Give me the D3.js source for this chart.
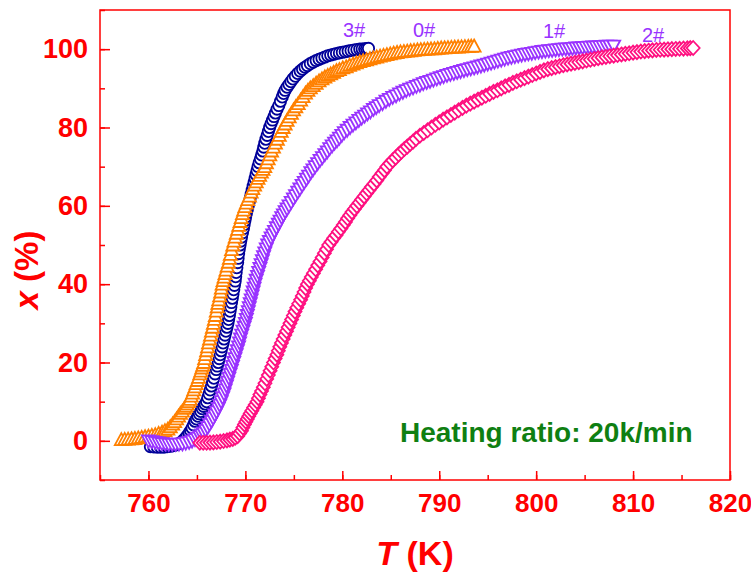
<!DOCTYPE html>
<html>
<head>
<meta charset="utf-8">
<script src="https://cdn.jsdelivr.net/npm/d3@7"></script>
<style>
  body { margin: 0; background: #fff; }
  svg { display: block; font-family: "Liberation Sans", Arial, sans-serif; }
</style>
</head>
<body>
<svg id="chart" width="751" height="573"></svg>
<script>
// sample 3# (navy circles)
const temp3 = [760.2,760.55,760.9,761.25,761.6,761.95,762.3,762.6,762.9,763.15,763.4,763.6,763.8,764.0,764.2,764.35,764.5,764.65,764.8,764.95,765.1,765.25,765.4,765.55,765.7,765.85,766.0,766.12,766.25,766.37,766.5,766.62,766.75,766.87,767.0,767.1,767.2,767.3,767.4,767.5,767.6,767.7,767.8,767.9,768.0,768.1,768.2,768.27,768.35,768.42,768.5,768.57,768.65,768.72,768.8,768.87,768.95,769.0,769.05,769.12,769.2,769.25,769.3,769.37,769.45,769.52,769.6,769.7,769.8,769.87,769.95,770.02,770.1,770.2,770.3,770.4,770.5,770.6,770.7,770.8,770.9,771.0,771.1,771.2,771.3,771.42,771.55,771.67,771.8,771.9,772.0,772.12,772.25,772.37,772.5,772.65,772.8,772.95,773.1,773.27,773.45,773.62,773.8,773.95,774.1,774.3,774.5,774.7,774.9,775.15,775.4,775.65,775.9,776.15,776.4,776.7,777.0,777.3,777.6,777.9,778.2,778.5,778.8,779.1,779.4,779.7,780.0,780.3,780.6,780.9,781.2,781.5,781.8,782.05,782.3,782.5,782.7];
const conv3 = [-1.5,-1.55,-1.6,-1.6,-1.6,-1.5,-1.4,-1.2,-1.0,-0.7,-0.3,0.2,0.7,1.3,2.0,2.6,3.3,4.1,5.0,5.6,6.3,6.9,7.5,8.2,8.8,9.4,10,11,12,13,14,15,16,17.1,18.2,19.1,20,21,22,23,24,25,26,27,28,29,30,31,32,33.1,34.2,35.3,36.4,37.5,38.6,39.7,40.8,41.9,43,44.2,45.5,46.6,47.8,48.9,50,51,52,53.1,54.2,55.2,56.2,57.1,58,59,60,61,62,63,64,65,66,67,68,69,70,71,72,73,74,75,76,77,78,79,80,81,81.9,82.8,83.7,84.7,85.6,86.7,87.8,88.7,89.5,90.3,91.0,91.7,92.4,93.1,93.8,94.4,94.9,95.4,95.8,96.3,96.7,97.1,97.4,97.7,98,98.3,98.5,98.7,98.9,99.05,99.2,99.35,99.5,99.65,99.8,99.9,100,100.05,100.1,100.15,100.2];

// sample 0# (orange up triangles)
const temp0 = [757.2,757.55,757.9,758.25,758.6,758.95,759.3,759.65,760.0,760.35,760.7,761.05,761.4,761.7,762.0,762.25,762.5,762.7,762.9,763.1,763.3,763.5,763.7,763.85,764.0,764.15,764.3,764.42,764.55,764.67,764.8,764.92,765.05,765.17,765.3,765.4,765.5,765.6,765.7,765.8,765.9,766.0,766.1,766.2,766.3,766.4,766.5,766.6,766.7,766.8,766.9,767.0,767.1,767.17,767.25,767.35,767.45,767.52,767.6,767.7,767.8,767.9,768.0,768.12,768.25,768.35,768.45,768.57,768.7,768.82,768.95,769.07,769.2,769.32,769.45,769.57,769.7,769.82,769.95,770.1,770.25,770.42,770.6,770.77,770.95,771.12,771.3,771.47,771.65,771.82,772.0,772.17,772.35,772.52,772.7,772.9,773.1,773.3,773.5,773.7,773.9,774.1,774.3,774.52,774.75,774.97,775.2,775.45,775.7,775.95,776.2,776.45,776.7,777.0,777.3,777.6,777.9,778.2,778.5,778.8,779.1,779.4,779.7,780.05,780.4,780.75,781.1,781.45,781.8,782.15,782.5,782.85,783.2,783.55,783.9,784.25,784.6,784.95,785.3,785.65,786.0,786.35,786.7,787.05,787.4,787.75,788.1,788.45,788.8,789.15,789.5,789.85,790.2,790.55,790.9,791.25,791.6,791.95,792.3,792.65,793.0,793.3,793.6];
const conv0 = [0.3,0.37,0.45,0.52,0.6,0.75,0.9,1.05,1.2,1.4,1.6,1.9,2.2,2.6,3.0,3.6,4.3,4.9,5.6,6.3,7.0,7.6,8.3,8.8,9.4,10,10.6,11.4,12.2,13,13.8,14.6,15.4,16.2,17.1,17.8,18.6,19.3,20,21,22,23,24,25,26,27,28,29,30,31,32,33.1,34.2,35.1,36,37,38,39,40,40.9,41.8,42.7,43.6,44.6,45.6,46.6,47.6,48.8,50,51,52,53,54,55,56,57,58,58.9,59.8,60.7,61.6,62.5,63.5,64.4,65.3,66.1,67,67.8,68.6,69.3,70,71,72,73,74,75,76,77,78,79,80,80.9,81.8,82.7,83.6,84.5,85.3,86.1,87,87.9,88.8,89.5,90.1,90.7,91.3,91.9,92.4,92.9,93.3,93.7,94.1,94.5,94.8,95.2,95.5,95.9,96.2,96.5,96.8,97.05,97.3,97.55,97.8,98,98.2,98.4,98.6,98.8,99.0,99.15,99.3,99.4,99.5,99.6,99.7,99.8,99.9,99.95,100.0,100.05,100.1,100.2,100.3,100.35,100.4,100.45,100.5,100.55,100.6,100.65,100.7,100.75,100.8];

// sample 1# (purple down triangles)
const temp1 = [760.0,760.35,760.7,761.05,761.4,761.75,762.1,762.45,762.8,763.15,763.5,763.85,764.2,764.5,764.8,765.05,765.3,765.5,765.7,765.9,766.1,766.3,766.5,766.67,766.85,767.02,767.2,767.35,767.5,767.65,767.8,767.92,768.05,768.17,768.3,768.42,768.55,768.67,768.8,768.92,769.05,769.17,769.3,769.4,769.5,769.62,769.75,769.87,770.0,770.1,770.2,770.3,770.4,770.5,770.6,770.7,770.8,770.9,771.0,771.12,771.25,771.37,771.5,771.62,771.75,771.87,772.0,772.15,772.3,772.47,772.65,772.82,773.0,773.2,773.4,773.57,773.75,773.92,774.1,774.3,774.5,774.72,774.95,775.17,775.4,775.62,775.85,776.07,776.3,776.52,776.75,776.97,777.2,777.45,777.7,777.95,778.2,778.45,778.7,778.95,779.2,779.45,779.7,779.95,780.2,780.5,780.8,781.1,781.4,781.7,782.0,782.3,782.6,782.9,783.2,783.5,783.8,784.15,784.5,784.85,785.2,785.55,785.9,786.25,786.6,786.95,787.3,787.65,788.0,788.35,788.7,789.05,789.4,789.75,790.1,790.45,790.8,791.15,791.5,791.85,792.2,792.55,792.9,793.25,793.6,793.95,794.3,794.65,795.0,795.35,795.7,796.05,796.4,796.75,797.1,797.45,797.8,798.15,798.5,798.85,799.2,799.55,799.9,800.25,800.6,800.95,801.3,801.65,802.0,802.35,802.7,803.05,803.4,803.75,804.1,804.45,804.8,805.15,805.5,805.85,806.2,806.55,806.9,807.25,807.6,808.0];
const conv1 = [0,-0.2,-0.4,-0.55,-0.7,-0.8,-0.9,-0.9,-0.9,-0.85,-0.8,-0.6,-0.4,-0.05,0.3,0.7,1.1,1.5,2.0,2.7,3.4,4.2,5.0,5.8,6.6,7.4,8.3,9.1,10,11,12,13,14,15,16,17,18,19,20,21,22,23,24,25,26,27,28,29,30,31,32,33,34,35,36,37,38,39,40,41,42,43,44,45,46,47,48,49,50,50.9,51.8,52.6,53.5,54.4,55.3,56.1,57,57.7,58.5,59.2,60,60.9,61.8,62.6,63.5,64.3,65.2,66,66.8,67.6,68.5,69.2,70,70.8,71.6,72.3,73.1,73.8,74.6,75.3,76,76.6,77.3,78,78.7,79.3,80,80.6,81.2,81.8,82.4,82.9,83.5,84,84.6,85.1,85.6,86.1,86.7,87.2,87.7,88.1,88.6,89,89.4,89.8,90.1,90.5,90.8,91.2,91.5,91.8,92.1,92.4,92.7,93,93.3,93.55,93.8,94.05,94.3,94.55,94.8,95,95.2,95.45,95.7,95.95,96.2,96.45,96.7,96.95,97.2,97.45,97.7,97.9,98.1,98.3,98.5,98.65,98.8,98.95,99.1,99.25,99.4,99.5,99.6,99.7,99.8,99.9,100,100.05,100.1,100.2,100.3,100.35,100.4,100.45,100.5,100.55,100.6,100.65,100.7,100.75,100.8,100.8];

// sample 2# (pink diamonds)
const temp2 = [765.3,765.65,766.0,766.35,766.7,767.05,767.4,767.75,768.1,768.4,768.7,768.95,769.2,769.4,769.6,769.75,769.9,770.05,770.2,770.35,770.5,770.67,770.85,771.02,771.2,771.35,771.5,771.67,771.85,772.02,772.2,772.37,772.55,772.72,772.9,773.07,773.25,773.4,773.55,773.72,773.9,774.07,774.25,774.42,774.6,774.77,774.95,775.12,775.3,775.5,775.7,775.87,776.05,776.22,776.4,776.6,776.8,777.02,777.25,777.47,777.7,777.92,778.15,778.37,778.6,778.85,779.1,779.35,779.6,779.85,780.1,780.32,780.55,780.77,781.0,781.25,781.5,781.75,782.0,782.25,782.5,782.75,783.0,783.27,783.55,783.82,784.1,784.35,784.6,784.9,785.2,785.5,785.8,786.1,786.4,786.7,787.0,787.3,787.6,788.0,788.4,788.8,789.2,789.6,790.0,790.4,790.8,791.2,791.6,792.0,792.4,792.8,793.2,793.6,794.0,794.4,794.8,795.2,795.6,796.0,796.4,796.8,797.2,797.6,798.0,798.4,798.8,799.2,799.6,800.0,800.4,800.8,801.2,801.6,802.0,802.4,802.8,803.2,803.6,804.0,804.4,804.8,805.2,805.6,806.0,806.4,806.8,807.2,807.6,808.0,808.4,808.8,809.2,809.6,810.0,810.4,810.8,811.2,811.6,812.0,812.4,812.8,813.2,813.6,814.0,814.4,814.8,815.2,815.6,815.9,816.2];
const conv2 = [-0.5,-0.5,-0.5,-0.45,-0.4,-0.3,-0.2,-0.05,0.1,0.3,0.5,0.8,1.2,1.9,2.6,3.4,4.2,4.9,5.6,6.3,7.0,7.7,8.5,9.2,10,10.9,11.8,12.7,13.7,14.7,15.8,16.8,17.9,18.9,20,21,22,23,24,25,26,27,28,29,30,31,32,33,34,35,36,37,38,39,40,40.9,41.8,42.8,43.8,44.8,45.8,46.8,47.9,48.9,50,50.8,51.7,52.5,53.4,54.2,55.1,55.9,56.8,57.6,58.4,59.2,60,60.8,61.6,62.4,63.2,64,64.8,65.6,66.5,67.4,68.3,69.1,70,70.8,71.6,72.3,73.1,73.8,74.5,75.1,75.8,76.4,77.1,77.9,78.6,79.3,80,80.7,81.3,82,82.6,83.2,83.8,84.4,85,85.6,86.1,86.6,87.1,87.6,88.1,88.6,89.1,89.5,90,90.5,90.9,91.4,91.8,92.2,92.6,93,93.4,93.8,94.2,94.6,94.9,95.15,95.4,95.65,95.9,96.1,96.3,96.5,96.7,96.9,97.1,97.3,97.5,97.7,97.9,98.05,98.2,98.35,98.5,98.65,98.8,98.95,99.1,99.25,99.4,99.5,99.6,99.7,99.8,99.85,99.9,99.95,100.0,100.05,100.1,100.15,100.2,100.25,100.3];

const xTicks = [760, 770, 780, 790, 800, 810, 820];
const yTicks = [0, 20, 40, 60, 80, 100];
const seriesNames = ["3#", "0#", "1#", "2#"];

const svg = d3.select("#chart");
const margin = {left: 100, top: 10, right: 21, bottom: 93};
const W = 751, H = 573;

const x = d3.scaleLinear().domain([755, 820]).range([margin.left, W - margin.right]);
const y = d3.scaleLinear().domain([-10, 110]).range([H - margin.bottom, margin.top]);

const red = "#ff0000";

// minor ticks
svg.append("g")
  .attr("transform", `translate(0,${y(-10)})`)
  .call(d3.axisBottom(x).tickValues(d3.range(755, 821, 5)).tickSize(-5).tickFormat(""))
  .call(g => g.select(".domain").remove())
  .selectAll("line").attr("stroke", red).attr("stroke-width", 1.5);

svg.append("g")
  .attr("transform", `translate(${x(755)},0)`)
  .call(d3.axisLeft(y).tickValues(d3.range(-10, 111, 10)).tickSize(-5).tickFormat(""))
  .call(g => g.select(".domain").remove())
  .selectAll("line").attr("stroke", red).attr("stroke-width", 1.5);

// major ticks + labels
const xAxis = svg.append("g")
  .attr("transform", `translate(0,${y(-10)})`)
  .call(d3.axisBottom(x).tickValues(xTicks).tickSize(-9).tickPadding(14));
xAxis.select(".domain").remove();
xAxis.selectAll("line").attr("stroke", red).attr("stroke-width", 1.5);
xAxis.selectAll("text")
  .attr("fill", red).attr("font-size", 26).attr("font-weight", "bold")
  .attr("font-family", "Liberation Sans, Arial, sans-serif");

const yAxis = svg.append("g")
  .attr("transform", `translate(${x(755)},0)`)
  .call(d3.axisLeft(y).tickValues(yTicks).tickSize(-10).tickPadding(12));
yAxis.select(".domain").remove();
yAxis.selectAll("line").attr("stroke", red).attr("stroke-width", 1.5);
yAxis.selectAll("text")
  .attr("fill", red).attr("font-size", 27).attr("font-weight", "bold")
  .attr("font-family", "Liberation Sans, Arial, sans-serif");

// markers
const shapes = {
  circle: d3.symbol(d3.symbolCircle, 100)(),
  up: "M0,-6.5L6.5,5.5L-6.5,5.5Z",
  down: "M0,6.5L6.5,-5.5L-6.5,-5.5Z",
  diamond: "M0,-7L6.5,0L0,7L-6.5,0Z"
};

const series = [
  {name: seriesNames[0], t: temp3, v: conv3, color: "#000099", shape: shapes.circle},
  {name: seriesNames[1], t: temp0, v: conv0, color: "#ff8000", shape: shapes.up},
  {name: seriesNames[2], t: temp1, v: conv1, color: "#9933ff", shape: shapes.down},
  {name: seriesNames[3], t: temp2, v: conv2, color: "#ff1080", shape: shapes.diamond}
];

const plot = svg.append("g");
series.forEach(s => {
  const pts = s.t.map((t, i) => ({t: t, v: s.v[i]}));
  plot.append("g").selectAll("path")
    .data(pts)
    .enter().append("path")
    .attr("d", s.shape)
    .attr("transform", d => `translate(${x(d.t)},${y(d.v)})`)
    .attr("fill", "#fff")
    .attr("stroke", s.color)
    .attr("stroke-width", 1.8);
});

// frame
svg.append("rect")
  .attr("x", x(755)).attr("y", y(110))
  .attr("width", x(820) - x(755)).attr("height", y(-10) - y(110))
  .attr("fill", "none").attr("stroke", red).attr("stroke-width", 1.5);

// series labels
const labelPos = [[343, 37], [413, 37], [543, 38], [642, 42]];
seriesNames.forEach((n, i) => {
  svg.append("text")
    .attr("x", labelPos[i][0]).attr("y", labelPos[i][1])
    .attr("fill", "#9933ff").attr("font-size", 20)
    .text(n);
});

// annotation
svg.append("text")
  .attr("x", 400).attr("y", 442)
  .attr("fill", "#0f7f12").attr("font-size", 28).attr("font-weight", "bold")
  .text("Heating ratio: 20k/min");

// axis titles
const xt = svg.append("text")
  .attr("x", 415).attr("y", 565)
  .attr("text-anchor", "middle")
  .attr("fill", red).attr("font-size", 34).attr("font-weight", "bold");
xt.append("tspan").attr("font-style", "italic").text("T");
xt.append("tspan").text(" (K)");

const yt = svg.append("text")
  .attr("transform", "translate(38,270) rotate(-90)")
  .attr("text-anchor", "middle")
  .attr("fill", red).attr("font-size", 33).attr("font-weight", "bold");
yt.append("tspan").attr("font-style", "italic").text("x");
yt.append("tspan").text(" (%)");
</script>
</body>
</html>
